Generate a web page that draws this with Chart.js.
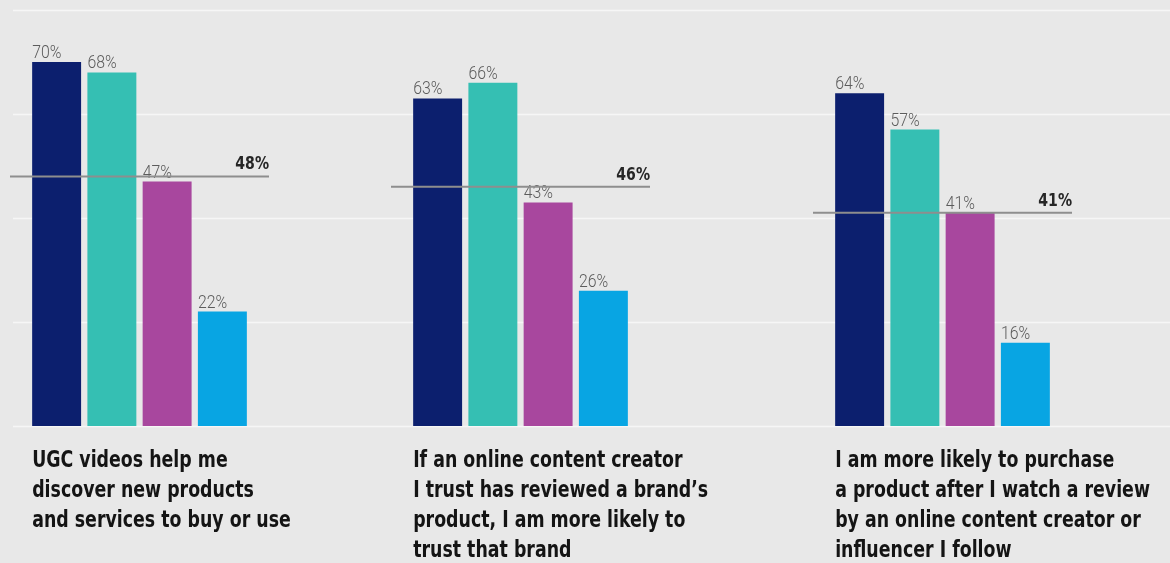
<!DOCTYPE html>
<html>
<head>
<meta charset="utf-8">
<script src="https://cdn.jsdelivr.net/npm/chart.js@4/dist/chart.umd.min.js"></script>
<style>
html, body { margin: 0; padding: 0; background: #e8e8e8; }
#wrap { position: relative; width: 1170px; height: 563px; overflow: hidden; }
.panel { position: absolute; top: 0; width: 390px; height: 563px; }
</style>
</head>
<body>
<div id="wrap">
  <div class="panel" style="left:0"><canvas id="c0" width="390" height="563"></canvas></div>
  <div class="panel" style="left:390px"><canvas id="c1" width="390" height="563"></canvas></div>
  <div class="panel" style="left:780px"><canvas id="c2" width="390" height="563"></canvas></div>
</div>
<script>
// one statement per group, wrapped as printed under the bars
var categories = [
    ["UGC videos help me", "discover new products", "and services to buy or use"],
    ["If an online content creator", "I trust has reviewed a brand\u2019s", "product, I am more likely to", "trust that brand"],
    ["I am more likely to purchase", "a product after I watch a review", "by an online content creator or", "influencer I follow"]
];

// four respondent groups, % agreeing, one value per statement
var seriesNavy    = [70, 63, 64];
var seriesTeal    = [68, 66, 57];
var seriesMagenta = [47, 43, 41];
var seriesBlue    = [22, 26, 16];

// overall average per statement (drawn as the grey rule)
var averages = [48, 46, 41];

var gridTicks = [0, 20, 40, 60, 80];

var colors = ["#0c1f6e", "#35bfb3", "#a8479e", "#08a5e3"];
var allSeries = [seriesNavy, seriesTeal, seriesMagenta, seriesBlue];

var CONDENSED = '"DejaVu Sans Condensed", "Liberation Sans Narrow", sans-serif';

// left/right padding of each panel's plot area, and where its grid starts
var panelPad = [
    { left: 29, right: 140, gridFrom: 13 },
    { left: 20, right: 149, gridFrom: 0 },
    { left: 52, right: 117, gridFrom: 0 }
];

// text squeezed horizontally, to get a narrow face out of the installed fonts
function squeezeText(ctx, text, x, y, sx) {
    ctx.save();
    ctx.translate(x, y);
    ctx.scale(sx, 1);
    ctx.fillText(text, 0, 0);
    ctx.restore();
}

var panelPlugin = {
    id: 'panelDecor',
    beforeDatasetsDraw: function(chart) {
        var ctx = chart.ctx;
        var y = chart.scales.y;
        var from = chart.options.plugins.panelDecor.gridFrom;
        ctx.save();
        ctx.strokeStyle = "#f6f6f6";
        ctx.lineWidth = 1.5;
        for (var i = 0; i < gridTicks.length; i++) {
            var py = Math.round(y.getPixelForValue(gridTicks[i])) + 0.5;
            ctx.beginPath();
            ctx.moveTo(from, py);
            ctx.lineTo(chart.width, py);
            ctx.stroke();
        }
        ctx.restore();
    },
    afterDatasetsDraw: function(chart) {
        var ctx = chart.ctx;
        var area = chart.chartArea;
        var opts = chart.options.plugins.panelDecor;
        var y = chart.scales.y;
        ctx.save();
        ctx.textBaseline = "alphabetic";

        // value labels over each bar
        ctx.font = "300 18px Roboto, sans-serif";
        ctx.fillStyle = "#5c5c5c";
        ctx.textAlign = "left";
        chart.data.datasets.forEach(function(ds, i) {
            var el = chart.getDatasetMeta(i).data[0];
            squeezeText(ctx, ds.data[0] + "%", el.x - el.width / 2, el.y - 4, 0.88);
        });

        // average rule
        var ay = y.getPixelForValue(opts.average);
        var x0 = area.left - 19, x1 = area.right + 19;
        ctx.strokeStyle = "#8e8e8e";
        ctx.lineWidth = 2;
        ctx.beginPath();
        ctx.moveTo(x0, ay);
        ctx.lineTo(x1, ay);
        ctx.stroke();
        ctx.font = "bold 18px " + CONDENSED;
        ctx.fillStyle = "#262626";
        ctx.textAlign = "right";
        squeezeText(ctx, opts.average + "%", x1, ay - 7, 0.87);

        // statement under the bars
        var first = chart.getDatasetMeta(0).data[0];
        ctx.font = "bold 23px " + CONDENSED;
        ctx.fillStyle = "#141414";
        ctx.textAlign = "left";
        var lines = chart.data.labels[0];
        for (var j = 0; j < lines.length; j++) {
            squeezeText(ctx, lines[j], first.x - first.width / 2, area.bottom + 41 + j * 30, 0.84);
        }
        ctx.restore();
    }
};

function makePanel(idx) {
    var datasets = allSeries.map(function(s, i) {
        return {
            label: "Series " + (i + 1),
            data: [s[idx]],
            backgroundColor: colors[i],
            categoryPercentage: 1,
            barPercentage: 0.886
        };
    });
    return new Chart(document.getElementById("c" + idx), {
        type: 'bar',
        data: { labels: [categories[idx]], datasets: datasets },
        plugins: [panelPlugin],
        options: {
            responsive: false,
            animation: false,
            devicePixelRatio: 1,
            layout: { padding: { left: panelPad[idx].left, right: panelPad[idx].right, top: 10, bottom: 137 } },
            scales: {
                x: { display: false, offset: true },
                y: { display: false, min: 0, max: 80 }
            },
            plugins: {
                legend: { display: false },
                tooltip: { enabled: false },
                panelDecor: { average: averages[idx], gridFrom: panelPad[idx].gridFrom }
            }
        }
    });
}

for (var k = 0; k < categories.length; k++) makePanel(k);
</script>
</body>
</html>
